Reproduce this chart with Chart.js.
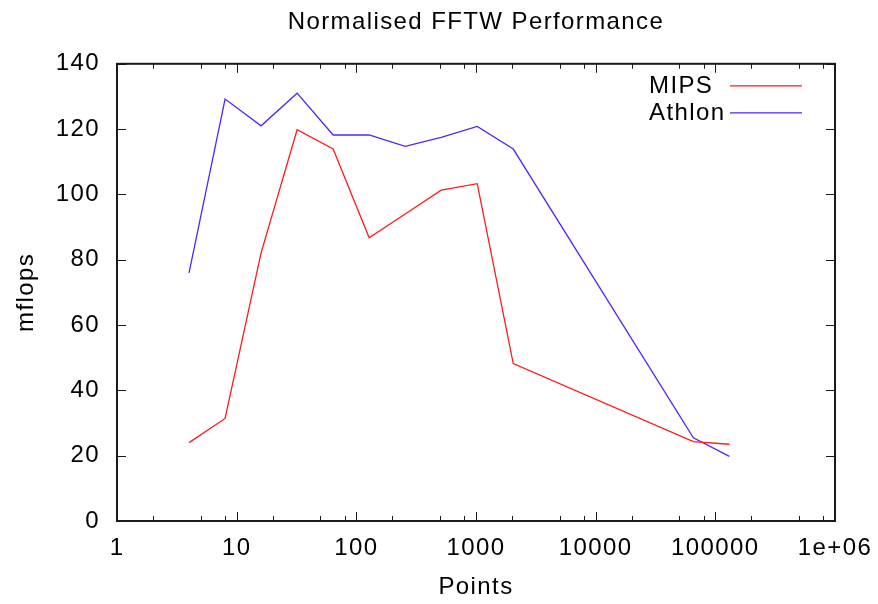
<!DOCTYPE html>
<html>
<head>
<meta charset="utf-8">
<script src="https://cdn.jsdelivr.net/npm/chart.js@4.4.1/dist/chart.umd.min.js"></script>
<style>
    html, body { margin: 0; padding: 0; background: #fff; }
    #wrap { width: 878px; height: 604px; }
</style>
</head>
<body>
<div id="wrap"><canvas id="fftw-chart" width="878" height="604"></canvas></div>
<script>
// Data
const points = [4, 8, 16, 32, 64, 128, 256, 512, 1024, 2048, 65536, 131072];
const mips = [24.0, 31.4, 82.1, 119.8, 113.9, 86.7, 94.0, 101.3, 103.3, 48.2, 24.3, 23.5];
const athlon = [76.0, 129.2, 121.0, 131.0, 118.2, 118.2, 114.7, 117.5, 120.8, 113.9, 25.5, 19.8];

const xTickValues = [1, 10, 100, 1000, 10000, 100000, 1000000];
const xTickLabels = ["1", "10", "100", "1000", "10000", "100000", "1e+06"];
const yTickValues = [0, 20, 40, 60, 80, 100, 120, 140];

const FONT = "'Liberation Sans', Arial, Helvetica, sans-serif";
const AXIS_COLOR = "#1a1a1a";
const SPACING = "1.4px";

// the reference font runs a bit wider than Liberation Sans
const spacingPlugin = {
    id: "spacing",
    beforeInit(chart) { chart.ctx.letterSpacing = SPACING; },
    beforeUpdate(chart) { chart.ctx.letterSpacing = SPACING; },
    beforeDraw(chart) { chart.ctx.letterSpacing = SPACING; }
};

// gnuplot style frame + inward ticks on all four sides
const framePlugin = {
    id: "frame",
    afterDatasetsDraw(chart) {
        const ctx = chart.ctx;
        const area = chart.chartArea;
        const xs = chart.scales.x;
        const ys = chart.scales.y;
        ctx.save();
        ctx.strokeStyle = AXIS_COLOR;
        ctx.lineWidth = 1;

        // major x ticks
        xTickValues.forEach(v => {
            const px = Math.round(xs.getPixelForValue(v)) + 0.5;
            ctx.beginPath();
            ctx.moveTo(px, area.bottom); ctx.lineTo(px, area.bottom - 9);
            ctx.moveTo(px, area.top); ctx.lineTo(px, area.top + 9);
            ctx.stroke();
        });
        // minor x ticks at 2, 5, 8 per decade
        for (let d = 1; d < 1000000; d *= 10) {
            [2, 5, 8].forEach(m => {
                const px = Math.round(xs.getPixelForValue(d * m)) + 0.5;
                ctx.beginPath();
                ctx.moveTo(px, area.bottom); ctx.lineTo(px, area.bottom - 5);
                ctx.moveTo(px, area.top); ctx.lineTo(px, area.top + 5);
                ctx.stroke();
            });
        }
        // y ticks
        yTickValues.forEach(v => {
            const py = Math.round(ys.getPixelForValue(v)) + 0.5;
            ctx.beginPath();
            ctx.moveTo(area.left, py); ctx.lineTo(area.left + 9, py);
            ctx.moveTo(area.right, py); ctx.lineTo(area.right - 9, py);
            ctx.stroke();
        });

        ctx.lineWidth = 2;
        ctx.strokeRect(area.left, area.top, area.right - area.left, area.bottom - area.top);
        ctx.restore();
    }
};

// key in the top right corner: label first, then line sample
const keyPlugin = {
    id: "key",
    afterDatasetsDraw(chart) {
        const ctx = chart.ctx;
        const area = chart.chartArea;
        ctx.save();
        ctx.font = "24px " + FONT;
        ctx.textBaseline = "middle";
        ctx.textAlign = "left";
        chart.data.datasets.forEach((ds, i) => {
            const y = area.top + 22 + i * 27;
            ctx.fillStyle = "#000";
            ctx.fillText(ds.label, area.right - 186, y + 1);
            ctx.strokeStyle = ds.borderColor;
            ctx.lineWidth = ds.borderWidth;
            ctx.beginPath();
            ctx.moveTo(area.right - 105, y);
            ctx.lineTo(area.right - 33, y);
            ctx.stroke();
        });
        ctx.restore();
    }
};

new Chart(document.getElementById("fftw-chart"), {
    type: "line",
    data: {
        datasets: [
            {
                label: "MIPS",
                data: points.map((p, i) => ({ x: p, y: mips[i] })),
                borderColor: "#ff1a1a",
                borderWidth: 1.3,
                pointRadius: 0,
                tension: 0,
                fill: false
            },
            {
                label: "Athlon",
                data: points.map((p, i) => ({ x: p, y: athlon[i] })),
                borderColor: "#5522ff",
                borderWidth: 1.3,
                pointRadius: 0,
                tension: 0,
                fill: false
            }
        ]
    },
    options: {
        responsive: false,
        animation: false,
        layout: { padding: { left: 0, right: 43, top: 0, bottom: 0 } },
        plugins: {
            legend: { display: false },
            tooltip: { enabled: false },
            title: {
                display: true,
                fullSize: false,
                text: "Normalised FFTW Performance",
                color: "#000",
                font: { family: FONT, size: 24, weight: "normal" },
                padding: { top: 8, bottom: 27 }
            }
        },
        scales: {
            x: {
                type: "logarithmic",
                min: 1,
                max: 1000000,
                afterBuildTicks: (scale) => {
                    scale.ticks = xTickValues.map(v => ({ value: v }));
                },
                afterFit: (scale) => {
                    scale.height = 83;
                    scale.paddingLeft = 0;
                    scale.paddingRight = 0;
                },
                ticks: {
                    autoSkip: false,
                    maxRotation: 0,
                    padding: 13,
                    color: "#000",
                    font: { family: FONT, size: 24 },
                    callback: (value) => {
                        const idx = xTickValues.indexOf(value);
                        return idx >= 0 ? xTickLabels[idx] : "";
                    }
                },
                grid: { display: false, drawTicks: false },
                border: { display: false },
                title: {
                    display: true,
                    text: "Points",
                    color: "#000",
                    font: { family: FONT, size: 24 },
                    padding: { top: 0, bottom: 2 }
                }
            },
            y: {
                min: 0,
                max: 140,
                afterBuildTicks: (scale) => {
                    scale.ticks = yTickValues.map(v => ({ value: v }));
                },
                afterFit: (scale) => {
                    scale.width = 117;
                    scale.paddingTop = 0;
                    scale.paddingBottom = 0;
                },
                ticks: {
                    padding: 17,
                    color: "#000",
                    font: { family: FONT, size: 24 }
                },
                grid: { display: false, drawTicks: false },
                border: { display: false },
                title: {
                    display: true,
                    text: "mflops",
                    color: "#000",
                    font: { family: FONT, size: 24 },
                    padding: { top: 12, bottom: 0 }
                }
            }
        }
    },
    plugins: [spacingPlugin, framePlugin, keyPlugin]
});
</script>
</body>
</html>
